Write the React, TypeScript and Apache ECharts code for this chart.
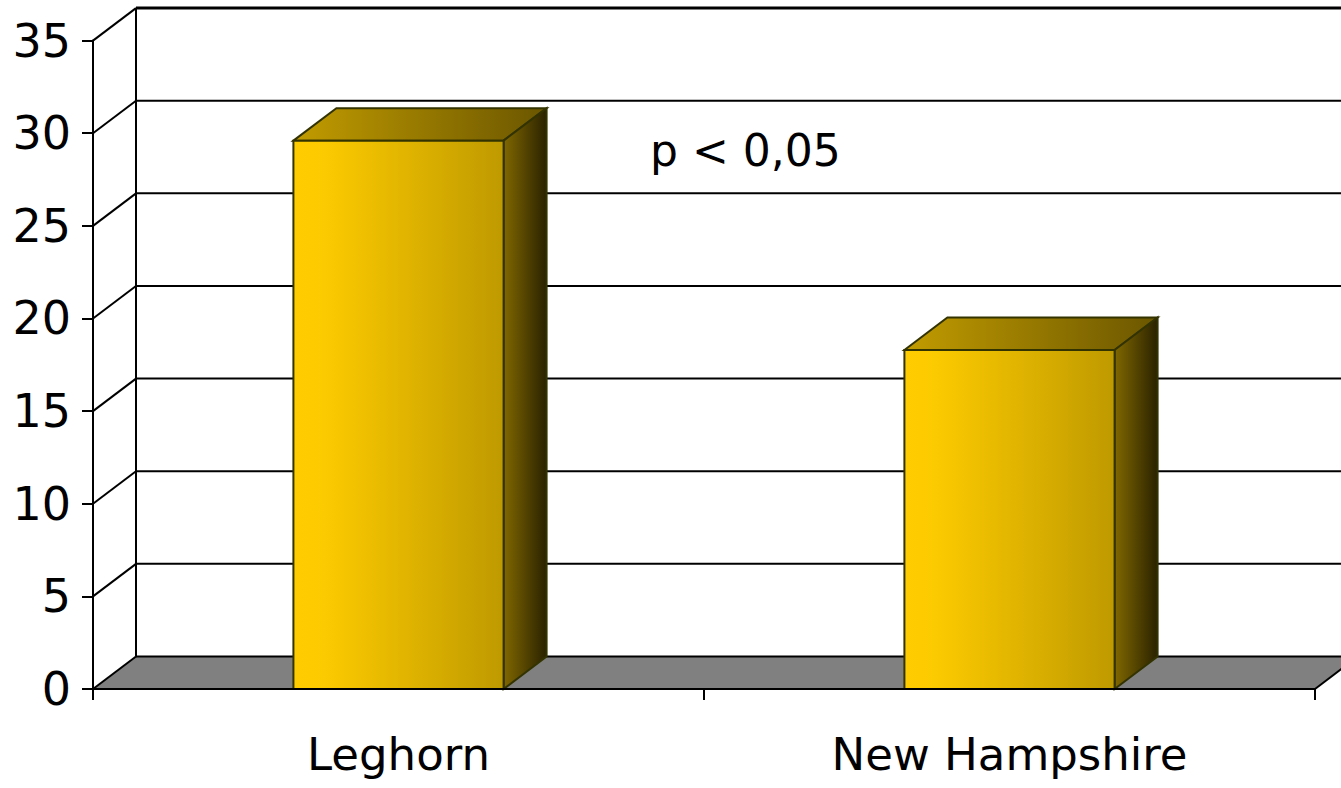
import React, { useEffect, useRef } from "react";
import * as echarts from "echarts";

const categories = ["Leghorn", "New Hampshire"];
const values = [29.6, 18.3];
const yTicks = [0, 5, 10, 15, 20, 25, 30, 35];
const annotation = "p < 0,05";

const DX = 43;
const DY = 32.5;
const FONT = "'DejaVu Sans', 'Noto Sans', sans-serif";

export default function App() {
  const ref = useRef<HTMLDivElement>(null);
  useEffect(() => {
    const chart = echarts.init(ref.current!, null, { renderer: "svg" });
    const yMax = yTicks[yTicks.length - 1];

    const wallItem = (params: any, api: any) => {
      const cs = params.coordSys;
      const v = api.value(1);
      const y = api.coord([0, v])[1];
      const y0 = api.coord([0, 0])[1];
      const x0 = cs.x;
      const x1 = cs.x + cs.width;
      const children: any[] = [];
      if (v === 0) {
        children.push({
          type: "polygon",
          shape: { points: [[x0, y], [x1, y], [x1 + DX, y - DY], [x0 + DX, y - DY]] },
          style: { fill: "#808080", stroke: "none" },
        });
        children.push({
          type: "line",
          shape: { x1: x1, y1: y, x2: x1 + DX, y2: y - DY },
          style: { stroke: "#000", lineWidth: 2 },
        });
      }
      if (v === yMax) {
        children.push({
          type: "line",
          shape: { x1: x0 + DX, y1: y - DY, x2: x0 + DX, y2: y0 - DY },
          style: { stroke: "#000", lineWidth: 2 },
        });
      }
      children.push({
        type: "line",
        shape: { x1: x0, y1: y, x2: x0 + DX, y2: y - DY },
        style: { stroke: "#000", lineWidth: 2 },
      });
      children.push({
        type: "line",
        shape: { x1: x0 + DX, y1: y - DY, x2: x1 + DX + 20, y2: y - DY },
        style: { stroke: "#000", lineWidth: v === yMax ? 3 : 2 },
      });
      return { type: "group", children };
    };

    const barItem = (params: any, api: any) => {
      const idx = api.value(0);
      const v = api.value(1);
      const top = api.coord([idx, v]);
      const base = api.coord([idx, 0]);
      const band = api.size([1, 0])[0];
      const w = band * 0.344;
      const l = top[0] - w / 2;
      const r = top[0] + w / 2;
      const ty = top[1];
      const by = base[1];
      const stroke = "#333300";
      return {
        type: "group",
        children: [
          {
            type: "polygon",
            shape: { points: [[l, ty], [l + DX, ty - DY], [r + DX, ty - DY], [r, ty]] },
            style: {
              fill: new echarts.graphic.LinearGradient(0, 0, 1, 0, [
                { offset: 0, color: "#C29C00" },
                { offset: 1, color: "#6B5600" },
              ]),
              stroke,
              lineWidth: 2,
            },
          },
          {
            type: "polygon",
            shape: { points: [[r, ty], [r + DX, ty - DY], [r + DX, by - DY], [r, by]] },
            style: {
              fill: new echarts.graphic.LinearGradient(0, 0, 1, 0, [
                { offset: 0, color: "#806700" },
                { offset: 1, color: "#2A2200" },
              ]),
              stroke,
              lineWidth: 2,
            },
          },
          {
            type: "rect",
            shape: { x: l, y: ty, width: w, height: by - ty },
            style: {
              fill: new echarts.graphic.LinearGradient(0, 0, 1, 0, [
                { offset: 0, color: "#FFCC00" },
                { offset: 0.15, color: "#FCCA00" },
                { offset: 1, color: "#BF9A00" },
              ]),
              stroke,
              lineWidth: 2,
            },
          },
        ],
      };
    };

    const option = {
      animation: false,
      backgroundColor: "#ffffff",
      grid: { left: 93, right: 26, top: 40.6, bottom: 99, containLabel: false },
      xAxis: {
        type: "category",
        data: categories,
        z: 10,
        axisLine: { show: true, lineStyle: { color: "#000", width: 2 } },
        axisTick: { show: true, length: 11, lineStyle: { color: "#000", width: 2 } },
        axisLabel: { fontSize: 45, color: "#000", fontFamily: FONT, margin: 43 },
        splitLine: { show: false },
      },
      yAxis: {
        type: "value",
        min: 0,
        max: 35,
        interval: 5,
        z: 10,
        axisLine: { show: true, lineStyle: { color: "#000", width: 2 } },
        axisTick: { show: true, length: 11, lineStyle: { color: "#000", width: 2 } },
        axisLabel: { fontSize: 46, color: "#000", fontFamily: FONT, margin: 22 },
        splitLine: { show: false },
      },
      graphic: [
        {
          type: "text",
          left: 650,
          top: 128,
          z: 20,
          style: { text: annotation, fontSize: 44, fontFamily: FONT, fill: "#000" },
        },
      ],
      series: [
        {
          type: "custom",
          z: 1,
          silent: true,
          renderItem: wallItem,
          data: yTicks.map((t) => [0, t]),
        },
        {
          type: "custom",
          z: 3,
          silent: true,
          renderItem: barItem,
          data: values.map((v, i) => [i, v]),
        },
      ],
    };
    chart.setOption(option as any);
    return () => chart.dispose();
  }, []);
  return (
    <div
      ref={ref}
      style={{ position: "absolute", left: 0, top: 0, width: 1341, height: 788 }}
    />
  );
}
